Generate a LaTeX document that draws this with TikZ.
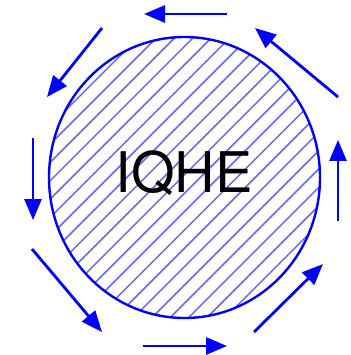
\documentclass[tikz,border=0pt]{standalone}
\usepackage{fontspec}
\setmainfont{TeX Gyre Heros}
\usetikzlibrary{arrows.meta}
\begin{document}
\begin{tikzpicture}[x=1pt,y=-1pt,
  edgearrow/.style={draw=blue, line width=2.8pt, -{Triangle[length=21pt,width=17pt]}},
  hatch/.style={draw=blue!60, line width=1.5pt}]
\useasboundingbox (0,0) rectangle (350,355);
\begin{scope}
  \clip (184.5,177.5) ellipse [x radius=135.5, y radius=140.5];
  \foreach \xx in {-220,-201.65,...,600} {
    \draw[hatch] (\xx,377.5) -- ({\xx+400},-22.5);
  }
\end{scope}
\draw[draw=blue, line width=2.4pt] (184.5,177.5) ellipse [x radius=135.5, y radius=140.5];
\node[font=\fontsize{56}{60}\selectfont, inner sep=0pt] (lbl) at (184,173) {IQHE};
\coordinate (t1) at (227,14); \coordinate (h1) at (144,14);
\coordinate (t2) at (102,28); \coordinate (h2) at (47,97);
\coordinate (t3) at (33,138); \coordinate (h3) at (33,220);
\coordinate (t4) at (32,249); \coordinate (h4) at (102,332);
\coordinate (t5) at (143,346); \coordinate (h5) at (227,346);
\coordinate (t6) at (254,332); \coordinate (h6) at (323,264);
\coordinate (t7) at (338,221); \coordinate (h7) at (338,140);
\coordinate (t8) at (338,97); \coordinate (h8) at (255,28);
\foreach \i in {1,...,8} { \draw[edgearrow] (t\i) -- (h\i); }
\end{tikzpicture}
\end{document}
